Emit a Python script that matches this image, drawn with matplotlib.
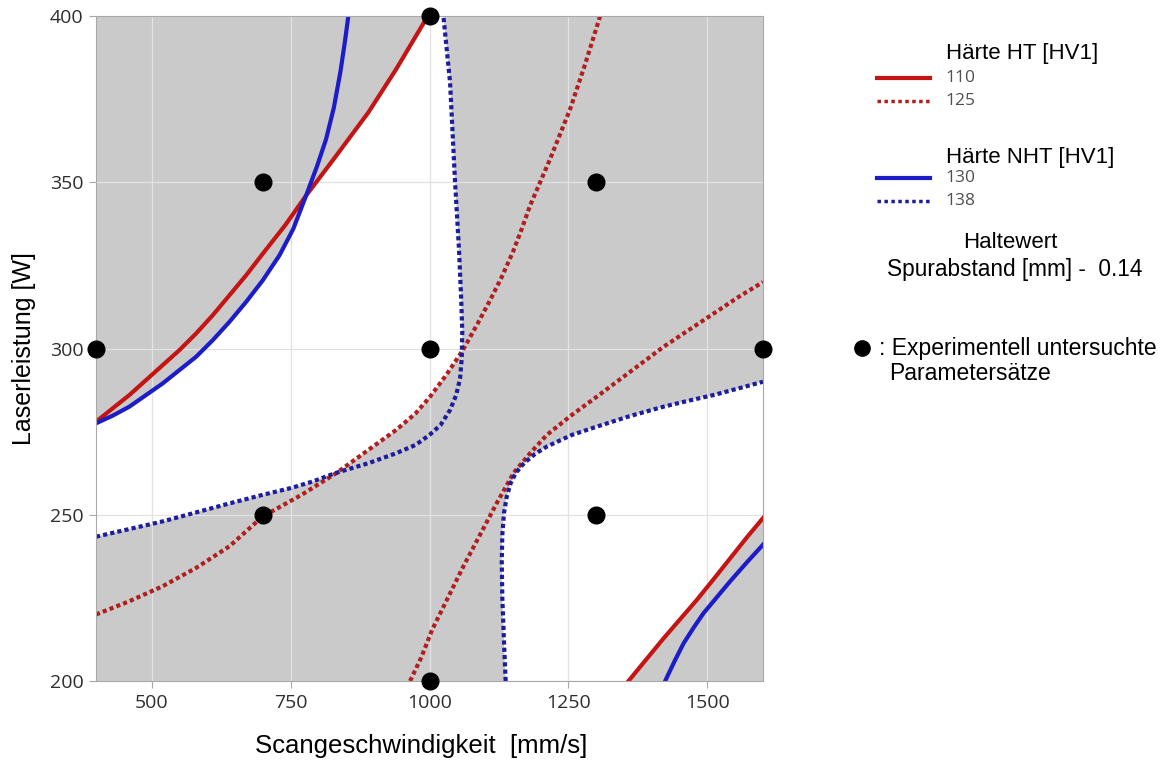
import matplotlib.pyplot as plt
from matplotlib.lines import Line2D

# Achsenbereich
x_min, x_max = 400, 1600
y_min, y_max = 200, 400
x_ticks = [500, 750, 1000, 1250, 1500]
y_ticks = [200, 250, 300, 350, 400]

# Hoehenlinien (Scangeschwindigkeit [mm/s], Laserleistung [W])
# Haerte HT = 110, Ast oben links
ht110_a_x = [400, 430, 460, 490, 520, 550, 580, 610, 640, 670, 700, 740, 778, 830, 890, 940, 997]
ht110_a_y = [278, 282, 286, 290.5, 295, 299.5, 304.5, 310, 316, 322, 328.5, 337, 346, 357.5, 371, 384, 400]
# Haerte HT = 110, Ast unten rechts
ht110_b_x = [1358, 1390, 1421, 1451, 1481, 1511, 1541, 1570, 1600]
ht110_b_y = [200, 206.5, 212.8, 218.6, 224.4, 230.6, 236.9, 243, 249]

# Haerte NHT = 130, Ast oben links
nht130_a_x = [400, 430, 460, 490, 520, 550, 580, 610, 640, 670, 700, 730, 755, 778, 798,
              814, 828, 840, 848, 854]
nht130_a_y = [277.5, 279.8, 282.5, 286, 289.5, 293.5, 297.5, 302.5, 308, 314, 320.5, 328,
              336, 346, 355, 363, 372.5, 383.5, 392.5, 400]
# Haerte NHT = 130, Ast unten rechts
nht130_b_x = [1424, 1441, 1457, 1475, 1493, 1517, 1541, 1570, 1600]
nht130_b_y = [200, 206, 211.3, 216, 220.4, 225.2, 230, 235.5, 241]

# Haerte HT = 125, zwei Aeste
ht125_a_x = [400, 460, 520, 580, 640, 700, 770, 832, 890, 940, 975, 1001, 1030, 1060, 1085,
             1109, 1130, 1150, 1166, 1181, 1199, 1217, 1235, 1253, 1266, 1280, 1294, 1307]
ht125_a_y = [220, 224, 228.5, 234, 240.5, 249.5, 256, 262.5, 269.5, 275.5, 280.5, 285.5, 292,
             299.5, 307, 314.5, 321.5, 329, 336, 343, 350, 357, 364.5, 372, 378.5, 385.5,
             393, 400]
ht125_b_x = [965, 985, 1005, 1033, 1061, 1091, 1121, 1151, 1181, 1211, 1256, 1301, 1361,
             1421, 1466, 1511, 1556, 1600]
ht125_b_y = [200, 207, 215.5, 225, 234.5, 244, 253.5, 262.5, 268.5, 274, 280, 285.5, 293,
             300.5, 305.5, 310.5, 315.5, 320]

# Haerte NHT = 138, zwei Aeste
nht138_a_x = [400, 460, 520, 580, 640, 700, 750, 790, 830, 890, 940, 975, 1000, 1020, 1037,
              1048, 1055, 1058, 1059, 1057, 1053, 1046, 1037, 1025]
nht138_a_y = [243.4, 245.7, 248, 250.7, 253.4, 256, 258, 260, 262.5, 265.5, 268.5, 271, 274,
              277, 281.5, 286, 291, 297, 305, 315, 330, 350, 380, 400]
nht138_b_x = [1137, 1134, 1131, 1130, 1131, 1134, 1139, 1146, 1155, 1170, 1190, 1211, 1256,
              1301, 1361, 1421, 1466, 1511, 1556, 1600]
nht138_b_y = [200, 212, 225, 236, 244, 250.5, 255.5, 259.5, 262.5, 265.5, 268.3, 270.5, 274,
              276.5, 279.7, 282.5, 284.3, 286, 288, 290]

# Experimentell untersuchte Parametersaetze
dots_x = [400, 700, 700, 1000, 1000, 1000, 1300, 1300, 1600]
dots_y = [300, 250, 350, 200, 300, 400, 250, 350, 300]

gray = '#cacaca'
red = '#c41414'
red_dot = '#b01e1e'
blue = '#1c1cc8'
blue_dot = '#1c1c9c'

W, H = 1172, 767
fig = plt.figure(figsize=(W / 100, H / 100), dpi=100)
ax = fig.add_axes([96 / W, 1 - 681 / H, 667 / W, 665 / H])
ax.set_facecolor('white')

# graue Bereiche = Grenzen verletzt
ax.fill(ht110_a_x + [x_min], ht110_a_y + [y_max], color=gray, lw=0)
ax.fill(nht130_a_x + [x_min], nht130_a_y + [y_max], color=gray, lw=0)
ax.fill(ht110_b_x + [x_max], ht110_b_y + [y_min], color=gray, lw=0)
ax.fill(nht130_b_x + [x_max], nht130_b_y + [y_min], color=gray, lw=0)
ax.fill(ht125_a_x + [x_max] + ht125_b_x[::-1] + [x_min],
        ht125_a_y + [y_max] + ht125_b_y[::-1] + [y_min], color=gray, lw=0)
ax.fill(nht138_a_x + [x_max] + nht138_b_x[::-1] + [x_min],
        nht138_a_y + [y_max] + nht138_b_y[::-1] + [y_min], color=gray, lw=0)

dot_style = (0, (1, 0.75))
ax.plot(ht110_a_x, ht110_a_y, color=red, lw=3)
ax.plot(ht110_b_x, ht110_b_y, color=red, lw=3)
ax.plot(nht130_a_x, nht130_a_y, color=blue, lw=3)
ax.plot(nht130_b_x, nht130_b_y, color=blue, lw=3)
ax.plot(ht125_a_x, ht125_a_y, color=red_dot, lw=3, linestyle=dot_style)
ax.plot(ht125_b_x, ht125_b_y, color=red_dot, lw=3, linestyle=dot_style)
ax.plot(nht138_a_x, nht138_a_y, color=blue_dot, lw=3, linestyle=dot_style)
ax.plot(nht138_b_x, nht138_b_y, color=blue_dot, lw=3, linestyle=dot_style)

ax.plot(dots_x, dots_y, 'o', color='black', ms=12, clip_on=False, zorder=5)

ax.set_xlim(x_min, x_max)
ax.set_ylim(y_min, y_max)
ax.set_xticks(x_ticks)
ax.set_yticks(y_ticks)
ax.grid(color='#e2e2e2', lw=0.9)
for s in ax.spines.values():
    s.set_color('#a8a8a8')
    s.set_linewidth(0.8)
ax.tick_params(length=5, width=0.8, color='#a8a8a8', pad=4, labelsize=14,
               labelcolor='#2e2e2e')
for lab in ax.get_xticklabels() + ax.get_yticklabels():
    lab.set_family('Open Sans')

ax.set_xlabel('Scangeschwindigkeit  [mm/s]', family='Liberation Sans', fontsize=18.5,
              va='center')
ax.xaxis.set_label_coords((421 - 96) / 667, (681 - 746) / 665)
ax.set_ylabel('Laserleistung [W]', family='Liberation Sans', fontsize=18, labelpad=10)


def fx(px):
    return px / W


def fy(py):
    return 1 - py / H


# Legende rechts
fig.text(fx(946), fy(53), 'Härte HT [HV1]', family='Liberation Sans', fontsize=16, va='center')
fig.add_artist(Line2D([fx(877), fx(930)], [fy(78), fy(78)], color=red, lw=3))
fig.add_artist(Line2D([fx(877), fx(930)], [fy(101), fy(101)], color=red_dot, lw=2.5,
                      linestyle=(0, (1, 1))))
fig.text(fx(945), fy(78), '110', family='Open Sans', fontsize=12.5, color='#505050', va='center')
fig.text(fx(945), fy(101), '125', family='Open Sans', fontsize=12.5, color='#505050', va='center')

fig.text(fx(946), fy(157), 'Härte NHT [HV1]', family='Liberation Sans', fontsize=16, va='center')
fig.add_artist(Line2D([fx(877), fx(930)], [fy(178), fy(178)], color=blue, lw=3))
fig.add_artist(Line2D([fx(877), fx(930)], [fy(201), fy(201)], color=blue_dot, lw=2.5,
                      linestyle=(0, (1, 1))))
fig.text(fx(945), fy(178), '130', family='Open Sans', fontsize=12.5, color='#505050', va='center')
fig.text(fx(945), fy(201), '138', family='Open Sans', fontsize=12.5, color='#505050', va='center')

fig.text(fx(1010), fy(243), 'Haltewert', family='Liberation Sans', fontsize=16,
         ha='center', va='center')
fig.text(fx(1015), fy(269), 'Spurabstand [mm] -  0.14', family='Liberation Sans', fontsize=16.3,
         ha='center', va='center')

fig.add_artist(Line2D([fx(862)], [fy(348)], marker='o', color='black', ms=11))
fig.text(fx(879), fy(348), ': Experimentell untersuchte', family='Liberation Sans',
         fontsize=16.5, va='center')
fig.text(fx(889), fy(374), 'Parametersätze', family='Liberation Sans', fontsize=16.5,
         va='center')

fig.savefig('out.png', dpi=100)
